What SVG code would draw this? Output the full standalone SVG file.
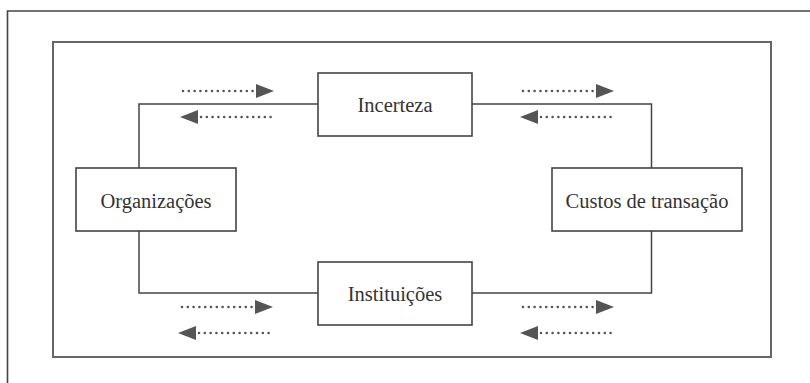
<svg xmlns="http://www.w3.org/2000/svg" width="810" height="383" viewBox="0 0 810 383">
<style>
.frame{fill:none;stroke:#444;stroke-width:1.6}
.inner{fill:none;stroke:#666;stroke-width:2}
.box{fill:#fff;stroke:#444;stroke-width:1.6}
.lbl{font-family:"Liberation Serif","Times New Roman",serif;font-size:20.5px;fill:#333;text-anchor:middle}
.link{fill:none;stroke:#444;stroke-width:1.5}
.dot{fill:none;stroke:#555;stroke-width:2.6;stroke-linecap:round;stroke-dasharray:0 5.8}
.head{fill:#555}
</style>
<defs>
<g id="ar">
<line class="dot" x1="0" y1="0" x2="70" y2="0"/>
<polygon class="head" points="73,-7 91,0 73,7"/>
</g>
<g id="al">
<polygon class="head" points="18,-7 0,0 18,7"/>
<line class="dot" x1="21" y1="0" x2="91" y2="0"/>
</g>
</defs>
<rect width="810" height="383" fill="#fff"/>
<path class="frame" d="M7.5 383 V11 H810"/>
<rect class="inner" x="53" y="42" width="718" height="315"/>
<g id="connectors">
<path class="link" d="M318 104 H139 V168"/>
<path class="link" d="M472 104 H651.5 V168"/>
<path class="link" d="M139 231 V293 H318"/>
<path class="link" d="M472 293 H651.5 V231"/>
<use href="#ar" x="183" y="91"/>
<use href="#al" x="180" y="117"/>
<use href="#ar" x="182" y="307"/>
<use href="#al" x="178" y="333"/>
<use href="#ar" x="523" y="91"/>
<use href="#al" x="520" y="117"/>
<use href="#ar" x="523" y="307"/>
<use href="#al" x="520" y="333"/>
</g>
<g id="incerteza">
<rect class="box" x="318" y="73" width="154" height="63"/>
<text class="lbl" x="395" y="112">Incerteza</text>
</g>
<g id="organizacoes">
<rect class="box" x="76" y="168" width="160" height="63"/>
<text class="lbl" x="156" y="208">Organizações</text>
</g>
<g id="custos">
<rect class="box" x="552" y="168" width="190" height="63"/>
<text class="lbl" x="647" y="208">Custos de transação</text>
</g>
<g id="instituicoes">
<rect class="box" x="318" y="262" width="154" height="63"/>
<text class="lbl" x="395" y="301">Instituições</text>
</g>
</svg>
